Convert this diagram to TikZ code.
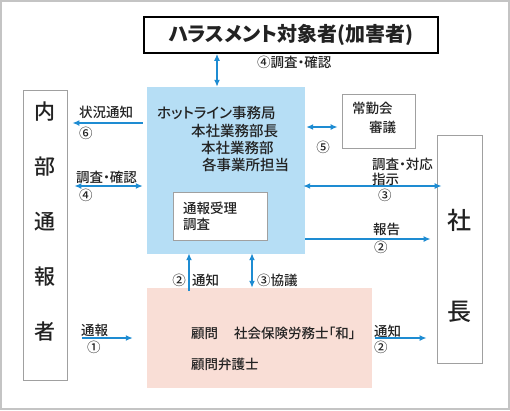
\documentclass[tikz,border=0pt]{standalone}
\usepackage{fontspec}
\setmainfont{Noto Sans CJK JP}[RawFeature=+palt]
\newfontfamily\jpmed{Noto Sans CJK JP Medium}[RawFeature=+palt]
\usepackage{xcolor}
\usepackage{tikz}
\usetikzlibrary{arrows.meta}
\definecolor{hotblue}{HTML}{B6DEF5}
\definecolor{advpink}{HTML}{F9DED6}
\definecolor{flowblue}{HTML}{1E8CD2}
\definecolor{boxgray}{HTML}{A0A0A0}
\definecolor{inkgray}{HTML}{222222}
\definecolor{framegray}{HTML}{C4C4C4}
\tikzset{
  >={Latex[length=7pt,width=6pt]},
  flow/.style={flowblue,line width=1.6pt},
  plainbox/.style={draw=boxgray,line width=0.8pt,inner sep=0pt},
  bigchar/.style={font=\jpmed\fontsize{21}{21}\selectfont,text=inkgray,inner sep=0pt},
  lbl/.style={font=\jpmed\fontsize{13.5}{16}\selectfont,text=inkgray,inner sep=0pt,anchor=west},
  officeline/.style={font=\jpmed\fontsize{14.5}{16}\selectfont,text=inkgray,inner sep=0pt,anchor=west}
}

\begin{document}
\begin{tikzpicture}[x=1pt,y=-1pt]
  \useasboundingbox (0,0) rectangle (510,410);
  \draw[framegray,line width=1.5pt] (1,1) rectangle (509,409);

  \node[draw=black,line width=1.6pt,minimum width=294pt,minimum height=36pt,inner sep=0pt,
    text=inkgray,font=\fontsize{20}{20}\selectfont\bfseries] (target) at (291,35) {ハラスメント対象者(加害者)};

  \node[fill=hotblue,minimum width=158pt,minimum height=167pt,inner sep=0pt] (office) at (226,170.5) {};
  \node[officeline] (office-a) at (157,113) {ホットライン事務局};
  \node[officeline] (office-b) at (191,131) {本社業務部長};
  \node[officeline] (office-c) at (201,148) {本社業務部};
  \node[officeline] (office-d) at (202,165) {各事業所担当};
  \node[draw=boxgray,line width=0.6pt,fill=white,text width=74pt,inner xsep=10pt,inner ysep=0pt,
    minimum height=48pt,align=left,text=inkgray,font=\jpmed\fontsize{13.5}{16}\selectfont] (intake) at (220,216) {通報受理\\調査};

  \node[plainbox,minimum width=73pt,minimum height=54pt] (council) at (378.5,121) {};
  \node[lbl] (council-a) at (352,108) {常勤会};
  \node[lbl] (council-b) at (369,127) {審議};

  \node[plainbox,minimum width=44pt,minimum height=290pt] (reporter) at (45,235) {};
  \foreach \c [count=\i from 0] in {内,部,通,報,者}
    \node[bigchar] (reporter-\i) at (45,112+55*\i) {\c};

  \node[plainbox,minimum width=45pt,minimum height=228pt] (president) at (459.5,249) {};
  \node[bigchar,font=\jpmed\fontsize{24}{24}\selectfont] (president-a) at (459.5,220) {社};
  \node[bigchar,font=\jpmed\fontsize{24}{24}\selectfont] (president-b) at (459.5,312) {長};

  \node[fill=advpink,minimum width=225pt,minimum height=100pt,inner sep=0pt] (advisor) at (259.5,338) {};
  \node[lbl] (advisor-a) at (191,333) {顧問\hspace{16pt}社会保険労務士「和」};
  \node[lbl] (advisor-b) at (191,364) {顧問弁護士};

  \draw[flow,<->] (target.south -| 217,0) -- (office.north -| 217,0);
  \node[lbl] (note-target) at (257,62) {④調査・確認};

  \draw[flow,->,shorten <=4pt,shorten >=5pt] (office.west |- 0,123) -- (reporter.east |- 0,123);
  \node[lbl] (note-status) at (79,112) {状況通知};
  \node[lbl] (note-status-n) at (79,133) {⑥};

  \draw[flow,<->,shorten <=4pt,shorten >=7pt] (office.west |- 0,186) -- (reporter.east |- 0,186);
  \node[lbl] (note-check) at (76,177) {調査・確認};
  \node[lbl] (note-check-n) at (79,195) {④};

  \draw[flow,<->,shorten <=1pt,shorten >=4pt] (office.east |- 0,127) -- (council.west |- 0,127);
  \node[lbl,anchor=center] (note-council-n) at (323,147) {⑤};

  \draw[flow,<->,shorten <=-2pt,shorten >=-5pt] (office.east |- 0,186) -- (president.west |- 0,186);
  \node[lbl] (note-order) at (372,164) {調査・対応};
  \node[lbl] (note-order-b) at (372,179) {指示};
  \node[lbl] (note-order-n) at (378,195) {③};

  \draw[flow,->,shorten >=6pt] (office.east |- 0,239) -- (president.west |- 0,239);
  \node[lbl] (note-report) at (373,229) {報告};
  \node[lbl] (note-report-n) at (374,247) {②};

  \draw[flow,->,shorten <=-3pt,shorten >=-1pt] (advisor.north -| 189,0) -- (office.south -| 189,0);
  \node[lbl,anchor=center] (note-notice-n) at (179,280) {②};
  \node[lbl] (note-notice) at (192,280) {通知};

  \draw[flow,<->,shorten <=-1pt] (office.south -| 252,0) -- (advisor.north -| 252,0);
  \node[lbl] (note-consult) at (257,280) {③協議};

  \draw[flow,->,shorten <=15pt,shorten >=14pt] (reporter.east |- 0,338) -- (advisor.west |- 0,338);
  \node[lbl] (note-whistle) at (81,330) {通報};
  \node[lbl] (note-whistle-n) at (87,347) {①};

  \draw[flow,->,shorten <=3pt,shorten >=10pt] (advisor.east |- 0,338) -- (president.west |- 0,338);
  \node[lbl] (note-inform) at (374,331) {通知};
  \node[lbl] (note-inform-n) at (374,347) {②};
\end{tikzpicture}
\end{document}
